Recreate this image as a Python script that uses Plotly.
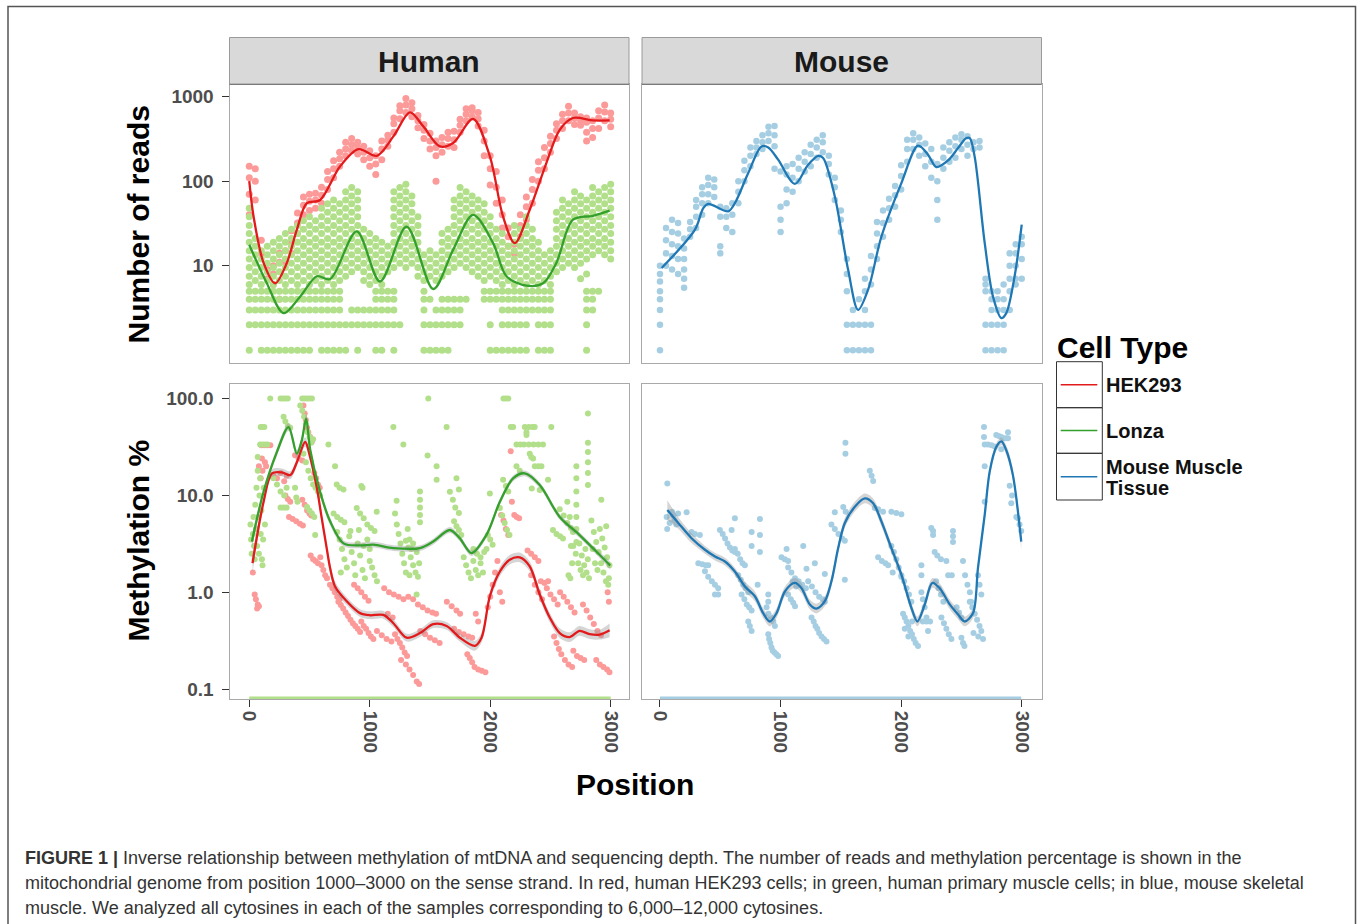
import plotly.graph_objects as go

# ---------------- palette (ColorBrewer "Paired") ----------------
HEK_PT, HEK_LN = "#FB9A99", "#E31A1C"
LON_PT, LON_LN = "#B2DF8A", "#33A02C"
MOU_PT, MOU_LN = "#A6CEE3", "#1F78B4"
FONT = "Liberation Sans, Arial, Helvetica, sans-serif"

# ---------------- data ----------------
# positions of the read-count columns
col_pos = [0, 50, 100, 150, 200, 250, 300, 350, 400, 450, 500, 550, 600, 650, 700, 750,
           800, 850, 900, 950, 1000, 1050, 1100, 1150, 1200, 1250, 1300, 1350, 1400, 1450,
           1500, 1550, 1600, 1650, 1700, 1750, 1800, 1850, 1900, 1950, 2000, 2050, 2100,
           2150, 2200, 2250, 2300, 2350, 2400, 2450, 2500, 2550, 2600, 2650, 2700, 2750,
           2800, 2850, 2900, 2950, 3000]

# Human, HEK293: number of reads at each column
hek_reads = [
    [40, 70, 110, 150], [60, 100, 140], [14, 20], [7, 9], [6, 8, 10], [4, 11, 14], [11, 15],
    [14, 19, 26], [24, 32, 42], [40, 52, 65], [45, 58, 70], [48, 60, 72], [55, 68, 85],
    [80, 105, 130], [110, 140, 175], [150, 185, 220], [200, 240, 290], [230, 270, 320],
    [210, 250, 290], [180, 220, 260], [150, 190, 230], [120, 160, 200], [180, 240, 300],
    [260, 310, 350], [380, 480, 560], [550, 680, 780], [650, 800, 950], [580, 720, 850],
    [430, 520, 600], [320, 400, 470], [240, 300, 370], [100, 200, 250, 300], [220, 270, 330],
    [260, 320, 380], [250, 310, 390], [380, 460, 540], [520, 620, 720], [580, 680, 740],
    [450, 550, 650], [200, 300, 400], [90, 140, 200], [55, 85, 130], [28, 40, 60],
    [17, 22, 28], [14, 18], [22, 30, 40], [35, 50, 65], [55, 80, 105], [100, 135, 170],
    [140, 190, 250], [220, 280, 340], [320, 400, 480], [420, 520, 620], [520, 640, 770],
    [470, 560, 640], [460, 520, 580], [300, 380, 500, 560], [330, 420, 520],
    [420, 560, 680], [520, 660, 800], [440, 540, 640]]

# Human, Lonza: number of reads at each column
lonza_reads = [
    [1, 2, 3, 4, 5, 6, 7.5, 9.5, 12, 15, 19, 24, 30, 38, 48],
    [2, 3, 4, 5, 6.7, 8.5, 10.7, 13.5, 17, 21],
    [1, 2, 3, 4, 5, 6, 7.5, 9.5, 12, 15],
    [1, 2, 3, 4, 5, 6.7, 8.5, 10.7, 13.5, 17],
    [1, 2, 3, 4, 5, 6, 7.5, 9.5, 12, 15, 19],
    [1, 2, 3, 4, 5, 6.7, 8.5, 10.7, 13.5, 17, 21],
    [1, 2, 3, 4, 5, 6, 7.5, 9.5, 12, 15, 19, 24],
    [1, 2, 3, 4, 5, 6.7, 8.5, 10.7, 13.5, 17, 21, 27],
    [1, 2, 3, 4, 5, 6, 7.5, 9.5, 12, 15, 19, 24, 30],
    [1, 2, 3, 4, 5, 6.7, 8.5, 10.7, 13.5, 17, 21, 27, 34],
    [1, 2, 3, 4, 5, 6, 7.5, 9.5, 12, 15, 19, 24, 30, 38],
    [2, 3, 4, 5, 6.7, 8.5, 10.7, 13.5, 17, 21, 27, 34],
    [1, 2, 3, 4, 5, 6, 7.5, 9.5, 12, 15, 19, 24, 30, 38, 48],
    [1, 2, 3, 4, 5, 6.7, 8.5, 10.7, 13.5, 17, 21, 27, 34, 43, 54],
    [1, 2, 3, 4, 5, 6, 7.5, 9.5, 12, 15, 19, 24, 30, 38, 48, 60],
    [1, 2, 3, 4, 5, 6.7, 8.5, 10.7, 13.5, 17, 21, 27, 34, 43, 54],
    [1, 2, 7.5, 9.5, 12, 15, 19, 24, 30, 38, 48, 60, 75],
    [2, 3, 8.5, 10.7, 13.5, 17, 21, 27, 34, 43, 54, 67, 84],
    [1, 2, 3, 9.5, 12, 15, 19, 24, 30, 38, 48, 60, 75],
    [2, 3, 6.7, 8.5, 10.7, 13.5, 17, 21, 27],
    [2, 3, 6, 7.5, 9.5, 12, 15, 19, 24],
    [1, 2, 3, 4, 5, 6.7, 8.5, 10.7, 13.5, 17, 21],
    [1, 2, 3, 4, 5, 6, 7.5, 9.5, 12, 15, 19],
    [2, 3, 4, 5, 8.5, 10.7, 13.5, 17],
    [1, 2, 3, 4, 5, 9.5, 12, 15, 19, 24, 30, 38, 48, 60, 75],
    [2, 10.7, 13.5, 17, 21, 27, 34, 43, 54, 67, 84],
    [9.5, 12, 15, 19, 24, 30, 38, 48, 60, 75, 92],
    [10.7, 13.5, 17, 21, 27, 34, 43, 54, 67],
    [7.5, 9.5, 12, 15, 19, 24, 30, 38],
    [1, 2, 3, 4, 5, 6.7, 8.5, 10.7, 13.5],
    [1, 2, 4, 7.5, 9.5, 12, 15],
    [1, 2, 3, 6.7, 8.5, 10.7, 13.5],
    [1, 2, 3, 4, 7.5, 9.5, 12, 15, 19, 24],
    [1, 2, 3, 4, 8.5, 10.7, 13.5, 17, 21, 27],
    [2, 3, 4, 9.5, 12, 15, 19, 24, 30, 38, 48, 60],
    [2, 3, 4, 10.7, 13.5, 17, 21, 27, 34, 43, 54, 67, 84],
    [4, 9.5, 12, 15, 19, 24, 30, 38, 48, 60, 75],
    [8.5, 10.7, 13.5, 17, 21, 27, 34, 43, 54, 67],
    [7.5, 9.5, 12, 15, 19, 24, 30, 38, 48, 60],
    [4, 5, 6.7, 8.5, 10.7, 13.5, 17, 21, 27, 34, 43, 54],
    [1, 2, 4, 5, 7.5, 9.5, 12, 15, 19, 24, 30, 38],
    [1, 4, 5, 6.7, 8.5, 10.7, 13.5, 17, 21, 27],
    [1, 2, 3, 4, 5, 6, 7.5, 9.5, 12, 15, 19, 24],
    [1, 2, 3, 4, 5, 6.7, 8.5, 10.7, 13.5, 17],
    [1, 2, 3, 4, 5, 6, 7.5, 9.5, 12, 15, 19, 24, 30],
    [1, 2, 3, 4, 5, 6.7, 8.5, 10.7, 13.5, 17, 21, 27],
    [1, 2, 3, 4, 5, 6, 7.5, 9.5, 12, 15, 19, 24, 30, 38],
    [3, 4, 5, 6.7, 8.5, 10.7, 13.5, 17, 21, 27],
    [1, 2, 3, 4, 5, 6, 7.5, 9.5, 12, 15, 19],
    [1, 2, 3, 4, 5, 6.7, 8.5, 10.7, 13.5],
    [1, 2, 3, 4, 5, 6, 7.5, 9.5, 12, 15],
    [8.5, 10.7, 13.5, 17, 21, 27, 34, 43],
    [9.5, 12, 15, 19, 24, 30, 38, 48, 60],
    [10.7, 13.5, 17, 21, 27, 34, 43, 54],
    [9.5, 12, 15, 19, 24, 30, 38, 48, 60, 75],
    [7, 10.7, 13.5, 17, 21, 27, 34, 43, 54, 67],
    [1, 2, 3, 4, 5, 8, 12, 15, 19, 24, 30, 38, 48, 60],
    [3, 4, 5, 13.5, 17, 21, 27, 34, 43, 54, 67, 84],
    [5, 15, 19, 24, 30, 38, 48, 60, 75],
    [13.5, 17, 21, 27, 34, 43, 54, 67, 84],
    [12, 15, 19, 24, 30, 38, 48, 60, 75, 92]]

# Mouse muscle tissue: number of reads at each column
mouse_reads = [
    [1, 2, 3, 4, 5, 6.5, 8, 10], [10, 14, 20, 28], [9, 13, 18, 25, 35], [8, 12, 17, 24, 32],
    [5.5, 7, 9, 12, 16, 21], [22, 27, 33], [28, 38, 50, 60], [40, 55, 70, 85],
    [55, 70, 90, 110], [65, 85, 105], [14, 17, 38, 50], [28, 38, 48], [25, 40, 55],
    [55, 75, 100], [100, 135, 175], [150, 200, 250], [210, 250, 300], [240, 290, 350],
    [300, 370, 440], [140, 260, 350, 450], [25, 35, 50, 130], [55, 80, 120, 150],
    [75, 110, 160], [100, 140, 190], [130, 170, 220], [150, 210, 270], [190, 250, 310],
    [220, 290, 350], [120, 160, 200], [60, 85, 110], [25, 35, 45], [1, 2, 5, 8, 12],
    [1, 2, 3], [1, 2, 4], [1, 2, 3, 5, 7], [1, 2, 6, 9, 13], [12, 17, 24, 33],
    [22, 32, 45], [35, 48, 62], [50, 68, 88], [80, 115, 155], [170, 240, 310],
    [240, 310, 370], [200, 270, 330], [150, 210, 280], [110, 170, 240],
    [35, 60, 100, 160], [140, 190, 250], [170, 230, 290], [190, 260, 330],
    [240, 310, 360], [200, 270, 340], [240, 290], [250, 300], [1, 2, 5, 6, 7],
    [1, 2, 3, 4, 5], [1, 2, 3, 4, 5], [1, 2, 3, 4, 6], [3, 5, 7, 10, 14],
    [6, 7, 10, 14, 18], [7, 12, 18, 22]]

# smoothed read-count curves (position, reads)
hek_rd_fit_x = [0, 36, 119, 215, 312, 395, 478, 588, 754, 906, 1058, 1196, 1334, 1444, 1582,
                1693, 1858, 1997, 2107, 2204, 2328, 2466, 2577, 2687, 2853, 2991]
hek_rd_fit_y = [100, 38, 10.8, 6.2, 10.8, 26.7, 55, 60, 150, 240, 200, 339, 653, 446, 258,
                283, 545, 197, 38, 18.5, 46, 164, 406, 560, 524, 524]
lon_rd_fit_x = [0, 146, 284, 422, 561, 671, 892, 1085, 1306, 1527, 1693, 1858, 2024, 2135,
                2301, 2439, 2549, 2687, 2853, 2991]
lon_rd_fit_y = [17.7, 6.2, 2.75, 4.3, 7.5, 6.95, 25.5, 6.5, 29, 5.3, 15.5, 40, 18.5, 7.5,
                5.8, 6.2, 10.8, 35, 39, 44.8]
mou_rd_fit_x = [14, 290, 359, 401, 566, 621, 732, 842, 898, 980, 1119, 1229, 1312, 1353, 1450,
                1560, 1643, 1726, 1836, 2002, 2140, 2223, 2292, 2389, 2472, 2541, 2569, 2610,
                2693, 2762, 2831, 2872, 2941, 3000]
mou_rd_fit_y = [9.4, 26.7, 48, 54, 44, 55, 125, 258, 251, 180, 93, 157, 200, 188, 66,
                9, 3.0, 5.2, 22, 95, 263, 206, 147, 176, 247, 324, 324, 194,
                18.6, 4.3, 2.4, 2.75, 7.5, 30.6]

# methylation % per cytosine (position, %)
hek_me_x = [30, 45, 55, 70, 65, 80, 80, 95, 105, 110, 100, 125, 150, 175, 130, 140, 200, 230,
            260, 290, 310, 300, 320, 340, 330, 360, 390, 420, 445, 380, 410, 440, 450, 460,
            470, 480, 490, 505, 520, 440, 460, 480, 500, 515, 540, 555, 570, 585, 510, 530,
            550, 570, 590, 600, 615, 630, 645, 670, 690, 710, 730, 750, 740, 760, 780, 800,
            820, 840, 860, 880, 900, 920, 870, 900, 930, 960, 990, 930, 950, 970, 990, 1010,
            1030, 1060, 1100, 1140, 1180, 1120, 1160, 1200, 1240, 1280, 1150, 1190, 1210,
            1230, 1250, 1270, 1290, 1310, 1260, 1300, 1330, 1360, 1390, 1410, 1320, 1360,
            1400, 1440, 1480, 1520, 1550, 1420, 1460, 1500, 1540, 1580, 1640, 1680, 1720,
            1750, 1700, 1740, 1780, 1820, 1850, 1810, 1830, 1850, 1870, 1900, 1930, 1960,
            1880, 1900, 1980, 2000, 2020, 2040, 2060, 2080, 2100, 2090, 2110, 2130, 2150,
            2170, 2180, 2200, 2220, 2240, 2310, 2340, 2370, 2400, 2340, 2370, 2400, 2430,
            2420, 2450, 2480, 2470, 2500, 2530, 2560, 2530, 2550, 2570, 2590, 2620, 2650,
            2680, 2580, 2610, 2640, 2670, 2700, 2690, 2720, 2750, 2780, 2770, 2800, 2830,
            2860, 2890, 2920, 2880, 2910, 2940, 2970, 2990, 2975, 2985]
hek_me_y = [1.6, 0.95, 0.85, 0.75, 0.68, 0.72, 20, 15, 24, 18, 33, 33, 33, 33, 22, 20, 16, 15,
            17, 14, 16, 10, 9.2, 8.6, 6, 5.7, 5.4, 5.1, 4.9, 26, 24, 23, 85, 70,
            60, 50, 45, 40, 36, 9, 8, 7, 6.5, 6.2, 17, 15, 13, 12, 2.4, 2.2,
            2.1, 2.0, 2.3, 1.9, 1.7, 1.5, 1.4, 1.2, 1.1, 1.0, 0.9, 0.85, 0.8, 0.74, 0.68, 0.62,
            0.57, 0.52, 0.48, 0.45, 0.42, 0.39, 1.2, 1.1, 1.0, 0.9, 0.82, 0.5, 0.45, 0.42, 0.38,
            0.35, 0.33, 0.4, 0.36, 0.33, 0.31, 1.1, 1.0, 0.95, 0.9, 0.85, 0.6, 0.55, 0.37,
            0.33, 0.3, 0.27, 0.24, 0.22, 0.2, 0.18, 0.16, 0.14, 0.12, 0.113, 0.9, 0.85,
            0.75, 0.7, 0.65, 0.62, 0.6, 0.4, 0.37, 0.34, 0.32, 0.3, 0.8, 0.72, 0.65,
            0.6, 0.42, 0.39, 0.37, 0.35, 0.34, 0.23, 0.21, 0.19, 0.17, 0.16, 0.155, 0.15,
            0.6, 0.5, 0.7, 0.9, 1.2, 1.6, 2.1, 1.0, 0.8, 6.3, 5.5, 4.5, 3.9,
            28.6, 8.6, 6.3, 6.0, 5.8, 2.7, 2.5, 2.3, 2.1, 1.5, 1.2, 1.0, 0.85,
            1.3, 1.25, 1.3, 1.1, 0.95, 0.85, 0.75, 0.35, 0.3, 0.26, 0.23, 0.2, 0.18,
            0.17, 1.0, 0.9, 0.8, 0.7, 0.62, 0.25, 0.22, 0.21, 0.2, 0.75, 0.65, 0.55,
            0.47, 0.4, 0.36, 0.2, 0.18, 0.17, 0.16, 0.15, 1.0, 0.8]

lon_me_x = [174, 260, 280, 300, 320, 440, 460, 480, 500, 520, 1486, 2110, 2130, 2150,
            95, 110, 125, 90, 110, 130, 150, 70,
            10, 15, 20, 30, 35, 40, 45, 50, 55, 60, 65, 70, 75, 80, 85, 90, 95, 100, 105, 110,
            115, 120, 130, 200, 230, 260, 290, 310, 285, 300, 320, 340, 260, 285, 310,
            380, 390, 400, 423, 440, 455, 470, 485, 500, 515, 530, 450, 470, 490, 510, 530,
            550, 570, 588, 480, 500, 520, 540, 547, 657, 712, 726, 750, 782, 700, 730, 760,
            790, 730, 750, 770, 790, 810, 830, 850, 870, 880, 900, 920, 940, 960, 980, 1000,
            760, 840, 910, 950, 892, 920, 950, 980, 1010, 1040, 1058, 930, 940, 1000, 1020,
            1040, 1060, 1196, 1279, 1223, 1210, 1225, 1240, 1255, 1270, 1285, 1300, 1315,
            1330, 1345, 1300, 1320, 1340, 1360, 1380, 1400, 1360, 1390, 1410, 1330, 1389,
            1417, 1417, 1417, 1417, 1417, 1480, 1555, 1555, 1638, 1665, 1690, 1710, 1740,
            1720, 1740, 1700, 1720, 1740, 1760, 1780, 1800, 1820, 1840, 1860, 1880, 1900,
            1920, 1940, 1860, 1890, 1920, 1950, 1969, 1997, 1980, 2000, 2020, 2107, 2130,
            2150, 2080, 2100, 2120, 2140, 2160, 2170, 2190, 2218, 2245, 2218, 2250, 2280,
            2320, 2360, 2400, 2438, 2287, 2320, 2350, 2369, 2301, 2301, 2328, 2340, 2356,
            2345, 2370, 2400, 2425, 2411, 2480, 2507, 2521, 2550, 2580, 2604, 2577, 2610,
            2640, 2670, 2687, 2640, 2660, 2670, 2680, 2650, 2665, 2715, 2715, 2715, 2715,
            2715, 2715, 2715, 2811, 2811, 2811, 2811, 2811, 2811, 2690, 2710, 2730, 2750,
            2770, 2790, 2810, 2740, 2760, 2780, 2800, 2820, 2840, 2860, 2880, 2900, 2920,
            2940, 2960, 2980, 2850, 2870, 2890, 2910, 2930, 2950, 2970, 2990, 2985, 2922, 2963]
lon_me_y = [100, 100, 100, 100, 100, 100, 100, 100, 100, 100, 100, 100, 100, 100,
            51, 51, 51, 33.5, 33.5, 33.5, 33.5, 25,
            5, 3.5, 2.5, 4, 6, 3, 2.2, 8, 4.5, 12, 3, 18, 6, 2.5, 10, 15, 4, 7, 2.2, 1.9,
            3.5, 12, 5, 15, 13, 11, 10, 12, 65, 58, 52, 50, 7.5, 7.5, 7.5,
            12, 9.5, 8.6, 85, 75, 65, 55, 45, 40, 35, 38, 27, 22, 18, 15, 13,
            12, 11, 10, 7.6, 7, 6.5, 6, 3.9, 33.5, 20, 13, 12, 11.5, 6.5, 6, 5.6,
            5.3, 4.2, 3.5, 2.8, 2.2, 1.8, 3.8, 2.6, 2.0, 1.5, 3.2, 2.4, 1.7, 1.4, 3.5, 2.8,
            1.6, 4.3, 4.4, 3.0, 7.4, 6.5, 5.8, 5.0, 4.6, 4.3, 6.8, 12.5, 12, 2.1, 1.8,
            1.5, 1.3, 51, 33.5, 8.8, 6.5, 5, 4, 3.2, 2.5, 2.0, 1.6, 4.5,
            3.5, 2.8, 3.4, 2.9, 2.3, 1.9, 1.6, 1.45, 3.2, 2.6, 2.0, 1.5, 0.95,
            11, 9, 7.5, 6.3, 5.3, 25.8, 20, 14.5, 51, 10.9, 9, 7.5, 6.6,
            15, 11.5, 5.4, 4.8, 4.4, 3.9, 2.3, 1.9, 1.6, 1.4, 2.1, 1.7, 1.5,
            2.0, 1.6, 2.8, 2.5, 2.3, 2.6, 2.8, 10.5, 3.9, 3.5, 3.1, 14.5, 12.5,
            11, 7.4, 6.2, 5.2, 4.4, 3.9, 51, 51, 20, 18, 33.5, 33.5, 33.5,
            33.5, 33.5, 33.5, 33.5, 51, 51, 51, 51, 45, 42, 27, 25, 24,
            11.8, 20, 20, 20, 11.4, 14.5, 51, 4.4, 4.0, 3.8, 3.6, 7.2, 6.2,
            5.2, 4.6, 4.2, 8.6, 6, 3, 2, 1.5, 1.4, 20, 15, 11, 8,
            6, 4.5, 3.3, 70, 35, 28, 22, 17, 12.8, 3.0, 2.5, 2.0, 1.7,
            1.5, 2.8, 2.2, 3.2, 2.4, 1.9, 1.6, 1.4, 5.5, 4.2, 3.3, 2.6, 2.0,
            1.6, 1.3, 1.2, 2.8, 2.0, 1.7, 4.5, 3.6, 2.9, 2.3, 1.9, 1.4, 9, 4.8]

mou_me_x = [61, 55, 60, 80, 100, 110, 120, 135, 150, 221, 262, 290, 331, 318, 350, 380, 400,
            373, 400, 430, 456, 483, 456, 483, 497, 520, 540, 560, 580, 600, 621, 594, 621,
            621, 645, 665, 685, 704, 649, 670, 690, 710, 732, 677, 700, 720, 740, 760, 732,
            745, 760, 760, 760, 829, 829, 829, 810, 898, 898, 884, 900, 920, 940, 953, 898,
            905, 915, 925, 935, 950, 965, 980, 1008, 1035, 1063, 1050, 1063, 1090, 1120,
            1150, 1180, 1210, 1063, 1085, 1105, 1120, 1100, 1130, 1188, 1215, 1229, 1260,
            1290, 1320, 1350, 1367, 1257, 1275, 1290, 1305, 1320, 1340, 1360, 1381, 1284,
            1367, 1422, 1450, 1480, 1510, 1533, 1450, 1533, 1538, 1538, 1520, 1540, 1740,
            1755, 1768, 1781, 1810, 1850, 1809, 1840, 1870, 1892, 1919, 1960, 2002, 1919,
            1940, 1960, 1980, 2002, 1930, 2002, 2025, 2045, 2065, 2085, 2016, 2030, 2045,
            2060, 2075, 2090, 2105, 2120, 2140, 2030, 2060, 2090, 2168, 2168, 2168, 2180,
            2195, 2210, 2223, 2180, 2210, 2240, 2265, 2265, 2250, 2278, 2300, 2330, 2375,
            2290, 2310, 2330, 2350, 2334, 2355, 2375, 2395, 2417, 2430, 2430, 2430, 2390,
            2420, 2460, 2480, 2500, 2513, 2500, 2513, 2525, 2530, 2550, 2570, 2580, 2569,
            2590, 2610, 2630, 2650, 2665, 2679, 2600, 2640, 2637, 2650, 2665, 2687, 2687,
            2693, 2720, 2750, 2776, 2693, 2693, 2789, 2810, 2830, 2850, 2870, 2886, 2886,
            2830, 2900, 2913, 2920, 2955, 2969, 2982, 2996]
mou_me_y = [13.3, 6, 4.5, 5.2, 6.8, 6.2, 5.5, 5.0, 6.5, 6.7, 4.2, 4.0, 3.9, 2.0, 1.95, 1.9, 1.9,
            1.65, 1.45, 1.3, 1.2, 1.1, 0.95, 0.95, 4.4, 4.0, 3.6, 3.2, 2.9, 2.7, 2.6, 4.4, 5.8,
            2.8, 2.5, 2.2, 2.0, 1.9, 1.5, 1.35, 1.2, 1.1, 1.0, 0.95, 0.85, 0.75, 0.7, 0.65, 0.5,
            0.45, 0.4, 4.2, 3.0, 5.7, 3.9, 2.6, 1.2, 0.95, 0.8, 0.7, 0.6, 0.55, 0.5, 0.45, 0.37,
            0.33, 0.3, 0.27, 0.25, 0.24, 0.23, 0.22, 2.3, 2.2, 2.1, 2.8, 1.8, 1.6, 1.4,
            1.3, 1.2, 1.1, 0.95, 0.85, 0.78, 0.72, 1.3, 1.15, 3.0, 1.75, 1.3, 1.15,
            1.0, 0.9, 0.85, 0.8, 0.55, 0.5, 0.45, 0.42, 0.38, 0.35, 0.33, 0.31, 2.0,
            1.55, 5.0, 4.5, 4.0, 3.6, 3.4, 6.7, 1.35, 35, 27, 7.6, 6.8, 18,
            16, 14.1, 7.4, 7.2, 6.8, 2.3, 2.1, 2.0, 1.9, 6.8, 6.6, 6.4, 3.0,
            2.6, 2.2, 1.8, 1.45, 1.6, 1.5, 1.3, 1.1, 0.95, 0.8, 0.6, 0.55, 0.5,
            0.45, 0.4, 0.37, 0.33, 0.3, 0.28, 0.42, 0.35, 0.5, 1.9, 1.5, 1.0, 0.85,
            0.7, 0.55, 0.4, 0.5, 0.5, 0.5, 4.3, 3.9, 4.6, 2.6, 2.4, 2.2, 2.1,
            1.3, 1.1, 0.95, 0.8, 0.55, 0.48, 0.42, 0.37, 0.33, 4.3, 3.8, 3.3, 1.5,
            1.5, 0.7, 0.62, 0.55, 2.1, 0.34, 0.3, 0.28, 1.5, 1.2, 1.0, 0.8, 0.8,
            0.7, 0.6, 0.52, 0.45, 0.4, 0.33, 0.38, 0.35, 1.5, 1.2, 0.95, 50.8, 40,
            33.5, 33.5, 33.0, 32, 20, 8.6, 42, 41, 40, 39, 39, 39, 45,
            30, 12.6, 8.3, 10, 6.0, 5.8, 5.0, 4.3]

# cytosines with 0 % methylation (drawn on the lower edge of the log panel)
zero_pct_shown_as = 0.081
lon_zero_x = [0, 250, 500, 750, 1000, 1250, 1500, 1750, 2000, 2250, 2500, 2750, 3000]
mou_zero_x = [0, 250, 500, 750, 1000, 1250, 1500, 1750, 2000, 2250, 2500, 2750, 2996]

# smoothed methylation curves with their confidence half-widths (log10 units)
hek_me_fit_x = [27, 119, 188, 271, 340, 395, 464, 505, 561, 600, 640, 671, 712, 809, 920, 1002,
                1113, 1196, 1306, 1417, 1527, 1638, 1748, 1872, 1928, 1997, 2080, 2162, 2245,
                2328, 2411, 2494, 2577, 2659, 2742, 2825, 2908, 2991]
hek_me_fit_y = [2.0, 8.6, 16.9, 17.3, 16.2, 22, 35.6, 25, 12, 6.0, 3.0, 1.78, 1.15, 0.81, 0.61,
                0.58, 0.585, 0.48, 0.34, 0.38, 0.47, 0.45, 0.34, 0.28, 0.34, 0.91, 1.64, 2.17,
                2.29, 1.85, 0.95, 0.55, 0.38, 0.345, 0.40, 0.37, 0.365, 0.405]
hek_me_ci = [0.10, 0.05, 0.04, 0.04, 0.04, 0.04, 0.05, 0.05, 0.05, 0.05, 0.05, 0.05, 0.05,
             0.04, 0.04, 0.04, 0.04, 0.04, 0.04, 0.04, 0.04, 0.04, 0.04, 0.05, 0.05, 0.05,
             0.05, 0.05, 0.05, 0.05, 0.05, 0.05, 0.05, 0.05, 0.05, 0.05, 0.05, 0.07]
lon_me_fit_x = [22, 119, 229, 326, 395, 436, 472, 505, 588, 671, 782, 920, 1030, 1196, 1417,
                1527, 1665, 1748, 1845, 1969, 2080, 2190, 2287, 2411, 2577, 2742, 2880, 2996]
lon_me_fit_y = [3.34, 10.9, 28, 50.8, 27, 37, 62, 30, 10.9, 5.4, 3.2, 3.05, 3.1, 2.86, 2.86,
                3.34, 4.4, 3.6, 2.54, 3.92, 8.6, 15, 16.9, 12.8, 6.0, 3.9, 2.64, 1.89]
lon_me_ci = [0.07, 0.04, 0.04, 0.04, 0.04, 0.04, 0.05, 0.04, 0.04, 0.04, 0.03, 0.03, 0.03, 0.03,
             0.03, 0.03, 0.03, 0.03, 0.03, 0.03, 0.03, 0.03, 0.03, 0.03, 0.03, 0.03, 0.03, 0.04]
mou_me_fit_x = [61, 152, 262, 373, 456, 539, 621, 704, 787, 856, 911, 967, 1036, 1119, 1174,
                1243, 1298, 1367, 1422, 1478, 1533, 1616, 1699, 1768, 1837, 1919, 2002, 2085,
                2135, 2196, 2259, 2320, 2403, 2472, 2527, 2596, 2637, 2693, 2734, 2789, 2831,
                2872, 2927, 2996]
mou_me_fit_y = [7.08, 5.2, 3.62, 2.75, 2.34, 2.08, 1.64, 1.15, 0.91, 0.61, 0.50, 0.61, 1.02,
                1.25, 1.1, 0.75, 0.68, 0.81, 1.3, 2.86, 5.2, 7.65, 9.33, 8.3, 5.37, 2.86, 1.52,
                0.69, 0.50, 0.75, 1.25, 1.1, 0.75, 0.59, 0.50, 0.61, 1.78, 6.3, 17.5, 31.6,
                36.2, 29.3, 16.2, 3.34]
mou_me_ci = [0.10, 0.06, 0.05, 0.04, 0.04, 0.04, 0.04, 0.05, 0.05, 0.05, 0.05, 0.05, 0.05,
             0.05, 0.05, 0.05, 0.05, 0.05, 0.05, 0.05, 0.05, 0.05, 0.05, 0.05, 0.05, 0.05,
             0.05, 0.05, 0.05, 0.05, 0.05, 0.05, 0.05, 0.05, 0.05, 0.05, 0.05, 0.05, 0.05,
             0.04, 0.04, 0.05, 0.05, 0.08]

legend_items = [["HEK293"], ["Lonza"], ["Mouse Muscle", "Tissue"]]
legend_colors = [HEK_LN, LON_LN, MOU_LN]
facets = ["Human", "Mouse"]

caption_lines = [
    "<b>FIGURE 1 |</b> Inverse relationship between methylation of mtDNA and sequencing depth. "
    "The number of reads and methylation percentage is shown in the",
    "mitochondrial genome from position 1000–3000 on the sense strand. In red, human HEK293 "
    "cells; in green, human primary muscle cells; in blue, mouse skeletal",
    "muscle. We analyzed all cytosines in each of the samples corresponding to 6,000–12,000 "
    "cytosines.",
]

# ---------------- helpers ----------------
W, H = 1360, 924


def fx(x):
    return x / W


def fy(y):
    return 1 - y / H


def flatten(cols):
    xs, ys = [], []
    for p, vals in zip(col_pos, cols):
        for v in vals:
            xs.append(p)
            ys.append(v)
    return xs, ys


fig = go.Figure()


def pts(x, y, color, xa, ya, size=6):
    fig.add_trace(go.Scatter(x=x, y=y, mode="markers", xaxis=xa, yaxis=ya,
                             marker=dict(color=color, size=size, line=dict(width=0)),
                             hoverinfo="skip", showlegend=False))


def curve(x, y, color, xa, ya, ci=None):
    if ci is not None:
        hi = [v * 10 ** c for v, c in zip(y, ci)]
        lo = [v / 10 ** c for v, c in zip(y, ci)]
        fig.add_trace(go.Scatter(x=x, y=hi, mode="lines", xaxis=xa, yaxis=ya,
                                 line=dict(width=0, shape="spline", smoothing=0.9),
                                 hoverinfo="skip", showlegend=False))
        fig.add_trace(go.Scatter(x=x, y=lo, mode="lines", xaxis=xa, yaxis=ya,
                                 line=dict(width=0, shape="spline", smoothing=0.9),
                                 fill="tonexty", fillcolor="rgba(150,150,150,0.4)",
                                 hoverinfo="skip", showlegend=False))
    fig.add_trace(go.Scatter(x=x, y=y, mode="lines", xaxis=xa, yaxis=ya,
                             line=dict(color=color, width=2.3, shape="spline", smoothing=0.9),
                             hoverinfo="skip", showlegend=False))


# top-left: Human reads
hx, hy = flatten(hek_reads)
lx, ly = flatten(lonza_reads)
mx, my = flatten(mouse_reads)
pts(hx, hy, HEK_PT, "x", "y", size=7)
pts(lx, ly, LON_PT, "x", "y", size=7)
curve(hek_rd_fit_x, hek_rd_fit_y, HEK_LN, "x", "y")
curve(lon_rd_fit_x, lon_rd_fit_y, LON_LN, "x", "y")
# top-right: Mouse reads
pts(mx, my, MOU_PT, "x2", "y2", size=6.5)
curve(mou_rd_fit_x, mou_rd_fit_y, MOU_LN, "x2", "y2")
# bottom-left: Human methylation
pts(hek_me_x, hek_me_y, HEK_PT, "x3", "y3")
pts(lon_me_x, lon_me_y, LON_PT, "x3", "y3")
fig.add_trace(go.Scatter(x=lon_zero_x, y=[zero_pct_shown_as] * len(lon_zero_x), mode="lines",
                         xaxis="x3", yaxis="y3", line=dict(color=LON_PT, width=3),
                         hoverinfo="skip", showlegend=False))
curve(hek_me_fit_x, hek_me_fit_y, HEK_LN, "x3", "y3", hek_me_ci)
curve(lon_me_fit_x, lon_me_fit_y, LON_LN, "x3", "y3", lon_me_ci)
# bottom-right: Mouse methylation
pts(mou_me_x, mou_me_y, MOU_PT, "x4", "y4")
fig.add_trace(go.Scatter(x=mou_zero_x, y=[zero_pct_shown_as] * len(mou_zero_x), mode="lines",
                         xaxis="x4", yaxis="y4", line=dict(color=MOU_PT, width=3),
                         hoverinfo="skip", showlegend=False))
curve(mou_me_fit_x, mou_me_fit_y, MOU_LN, "x4", "y4", mou_me_ci)

# ---------------- axes ----------------
LEFT = [fx(229.5), fx(629)]
RIGHT = [fx(642), fx(1041.5)]
TOP = [fy(362.7), fy(84.3)]
BOT = [fy(699), fy(384.3)]
tickfont = dict(family=FONT, size=19, color="#4d4d4d", weight="bold")
frame = dict(showgrid=False, zeroline=False, showline=True, mirror=True,
             linecolor="#a9a9a9", linewidth=1)
noticks = dict(ticks="", showticklabels=False)
xticks = dict(ticks="outside", ticklen=7, tickwidth=1.3, tickcolor="#333333",
              tickvals=[0, 1000, 2000, 3000], ticktext=["0", "1000", "2000", "3000"],
              tickangle=90, tickfont=tickfont)

fig.update_layout(
    xaxis=dict(domain=LEFT, range=[-164, 3152], anchor="y", **frame, **noticks),
    xaxis2=dict(domain=RIGHT, range=[-149, 3164], anchor="y2", **frame, **noticks),
    xaxis3=dict(domain=LEFT, range=[-164, 3152], anchor="y3", **frame, **xticks),
    xaxis4=dict(domain=RIGHT, range=[-149, 3164], anchor="y4", **frame, **xticks),
    yaxis=dict(domain=TOP, type="log", range=[-0.148, 3.147], anchor="x", **frame,
               ticks="outside", ticklen=7, tickwidth=1.3, tickcolor="#333333",
               ticklabelstandoff=4,
               tickvals=[10, 100, 1000], ticktext=["10", "100", "1000"], tickfont=tickfont),
    yaxis2=dict(domain=TOP, type="log", range=[-0.148, 3.147], anchor="x2", **frame, **noticks),
    yaxis3=dict(domain=BOT, type="log", range=[-1.101, 2.147], anchor="x3", **frame,
                ticks="outside", ticklen=7, tickwidth=1.3, tickcolor="#333333",
                ticklabelstandoff=4,
                tickvals=[0.1, 1, 10, 100], ticktext=["0.1", "1.0", "10.0", "100.0"],
                tickfont=tickfont),
    yaxis4=dict(domain=BOT, type="log", range=[-1.101, 2.147], anchor="x4", **frame, **noticks),
)

# ---------------- decorations ----------------
shapes = []
annotations = []
# outer frame
shapes.append(dict(type="rect", xref="paper", yref="paper", x0=fx(8), x1=fx(1355.5),
                   y0=-0.05, y1=fy(6.5), line=dict(color="#555555", width=1.5),
                   fillcolor="rgba(0,0,0,0)", layer="below"))
# facet strips
for (x0, x1), label in zip([(229.5, 629), (642, 1041.5)], facets):
    shapes.append(dict(type="rect", xref="paper", yref="paper", x0=fx(x0), x1=fx(x1),
                       y0=fy(84.3), y1=fy(37.5), fillcolor="#d9d9d9",
                       line=dict(color="#9a9a9a", width=1)))
    shapes.append(dict(type="line", xref="paper", yref="paper", x0=fx(x0), x1=fx(x1),
                       y0=fy(84.3), y1=fy(84.3), line=dict(color="#7a7a7a", width=1.3)))
    annotations.append(dict(text=label, x=fx((x0 + x1) / 2), y=fy(61.5), xref="paper",
                            yref="paper", showarrow=False, xanchor="center", yanchor="middle",
                            font=dict(family=FONT, size=30, color="#1a1a1a", weight="bold")))

# axis titles
title_font = dict(family=FONT, size=30, color="#000000", weight="bold")
annotations.append(dict(text="Number of reads", x=fx(138), y=fy(224.5), xref="paper",
                        yref="paper", showarrow=False, textangle=-90, font=title_font,
                        xanchor="center", yanchor="middle"))
annotations.append(dict(text="Methylation %", x=fx(138), y=fy(540.5), xref="paper",
                        yref="paper", showarrow=False, textangle=-90, font=title_font,
                        xanchor="center", yanchor="middle"))
annotations.append(dict(text="Position", x=fx(635), y=fy(784), xref="paper", yref="paper",
                        showarrow=False, font=title_font, xanchor="center", yanchor="middle"))

# legend (drawn by hand: ggplot-style key boxes)
annotations.append(dict(text="Cell Type", x=fx(1055), y=fy(347), xref="paper", yref="paper",
                        showarrow=False, xanchor="left", yanchor="middle", font=title_font))
box_edges = [361.7, 407.7, 453.3, 500]
label_rows_y = [[385], [431], [466.5, 488.5]]
for i, (names, col) in enumerate(zip(legend_items, legend_colors)):
    top, bot = box_edges[i], box_edges[i + 1]
    mid = (top + bot) / 2
    shapes.append(dict(type="rect", xref="paper", yref="paper", x0=fx(1056.5), x1=fx(1102.3),
                       y0=fy(bot), y1=fy(top), line=dict(color="#333333", width=1)))
    shapes.append(dict(type="line", xref="paper", yref="paper", x0=fx(1060.7), x1=fx(1097.3),
                       y0=fy(mid), y1=fy(mid), line=dict(color=col, width=1.5)))
    for name, yy in zip(names, label_rows_y[i]):
        annotations.append(dict(text=name, x=fx(1104), y=fy(yy), xref="paper",
                                yref="paper", showarrow=False, xanchor="left", yanchor="middle",
                                align="left",
                                font=dict(family=FONT, size=20, color="#111111", weight="bold")))

# caption
for i, line in enumerate(caption_lines):
    annotations.append(dict(text=line, x=fx(23), y=fy(858 + 25 * i), xref="paper",
                            yref="paper", showarrow=False, xanchor="left", yanchor="middle",
                            align="left", font=dict(family=FONT, size=18, color="#333333")))

fig.update_layout(width=W, height=H, margin=dict(l=0, r=0, t=0, b=0),
                  paper_bgcolor="white", plot_bgcolor="white", showlegend=False,
                  shapes=shapes, annotations=annotations)

fig.write_html("out.html", config={"displayModeBar": False},
               post_script="document.body.style.margin='0';")
